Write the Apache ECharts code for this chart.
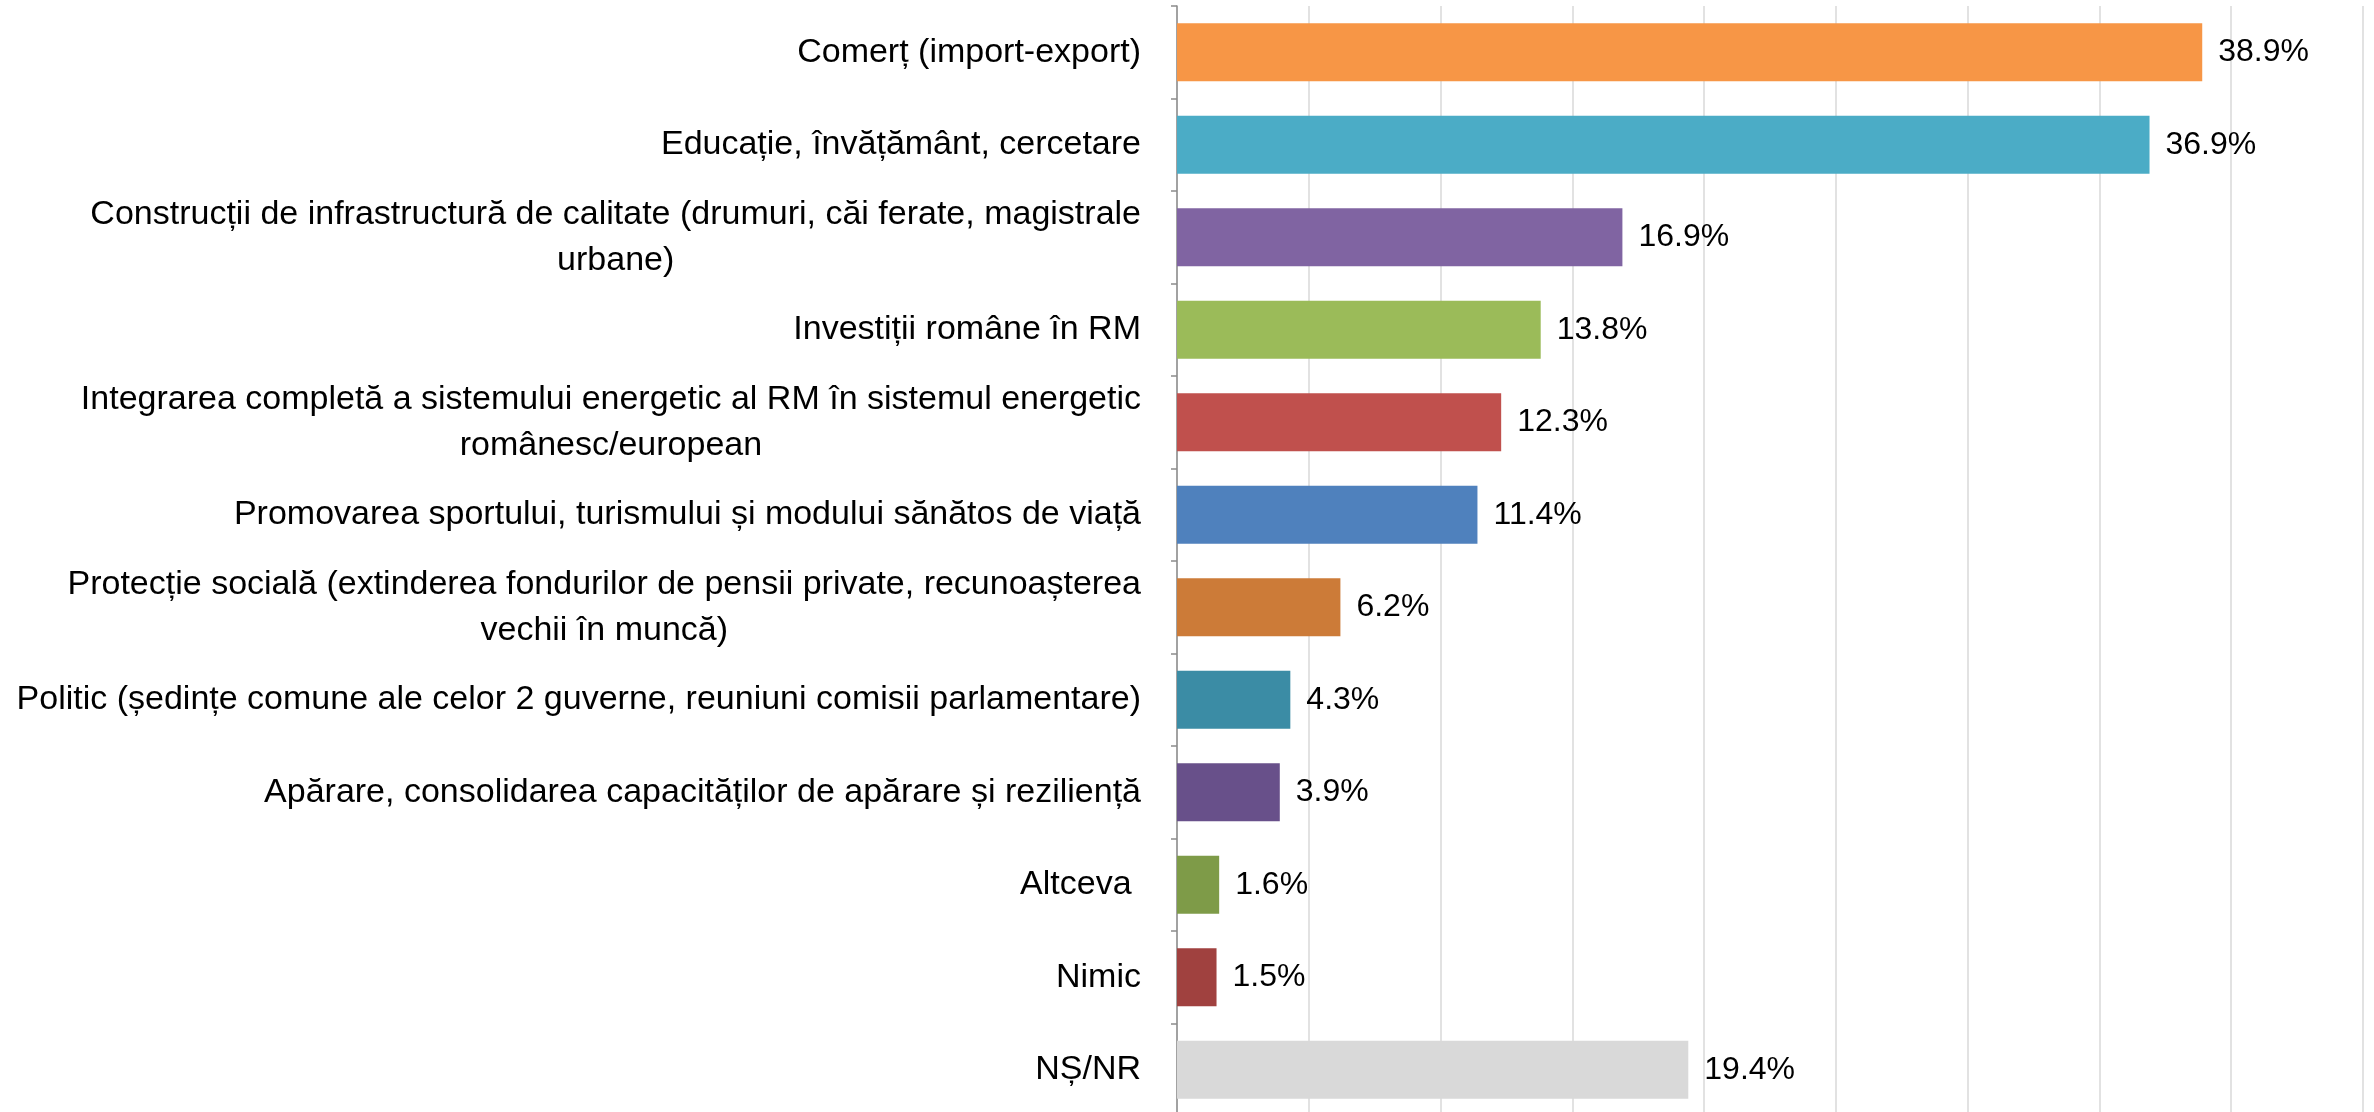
<!DOCTYPE html>
<html>
<head>
<meta charset="utf-8">
<script src="https://cdn.jsdelivr.net/npm/echarts@6/dist/echarts.min.js"></script>
<style>
    html, body { margin: 0; padding: 0; background: #fff; }
    #chart { width: 2374px; height: 1112px; }
</style>
</head>
<body>
<div id="chart"></div>
<script>
    var categories = [
        'Comerț (import-export)',
        'Educație, învățământ, cercetare',
        'Construcții de infrastructură de calitate (drumuri, căi ferate, magistrale\nurbane)',
        'Investiții române în RM',
        'Integrarea completă a sistemului energetic al RM în sistemul energetic\nromânesc/european',
        'Promovarea sportului, turismului și modului sănătos de viață',
        'Protecție socială (extinderea fondurilor de pensii private, recunoașterea\nvechii în muncă)',
        'Politic (ședințe comune ale celor 2 guverne, reuniuni comisii parlamentare)',
        'Apărare, consolidarea capacităților de apărare și reziliență',
        'Altceva ',
        'Nimic',
        'NȘ/NR'
    ];
    var values = [38.9, 36.9, 16.9, 13.8, 12.3, 11.4, 6.2, 4.3, 3.9, 1.6, 1.5, 19.4];
    var barColors = [
        '#F79646', '#4BACC6', '#8064A2', '#9BBB59', '#C0504D', '#4F81BD',
        '#CC7B38', '#3B8CA5', '#68508A', '#7E9B48', '#A0413F', '#D9D9D9'
    ];

    var font = 'Liberation Sans';
    var myChart = echarts.init(document.getElementById('chart'));

    var option = {
        animation: false,
        backgroundColor: '#ffffff',
        grid: {
            left: 1177,
            right: 11,
            top: 6,
            height: 1110,
            containLabel: false,
            outerBoundsMode: 'none'
        },
        xAxis: {
            type: 'value',
            min: 0,
            max: 45,
            interval: 5,
            axisLabel: {show: false},
            axisLine: {show: false},
            axisTick: {show: false},
            splitLine: {lineStyle: {color: '#D9D9D9', width: 1.5}}
        },
        yAxis: {
            type: 'category',
            inverse: true,
            data: categories,
            axisLine: {lineStyle: {color: '#8C8C8C', width: 1.5}},
            axisTick: {show: true, length: 6, lineStyle: {color: '#8C8C8C', width: 1.5}},
            axisLabel: {
                margin: 36,
                align: 'right',
                formatter: function (value) {
                    // center the lines of wrapped labels, like the original
                    return value.split('\n').map(function (l) {
                        return '{c|' + l + '}';
                    }).join('\n');
                },
                rich: {
                    c: {
                        align: 'center',
                        fontFamily: font,
                        fontSize: 34,
                        lineHeight: 46,
                        color: '#000000'
                    }
                }
            }
        },
        series: [{
            type: 'bar',
            barWidth: 58,
            data: values.map(function (v, i) {
                return {value: v, itemStyle: {color: barColors[i]}};
            }),
            label: {
                show: true,
                position: 'right',
                distance: 16,
                fontFamily: font,
                fontSize: 32,
                color: '#000000',
                formatter: function (p) {
                    return p.value.toFixed(1) + '%';
                }
            }
        }]
    };
    myChart.setOption(option);
</script>
</body>
</html>
